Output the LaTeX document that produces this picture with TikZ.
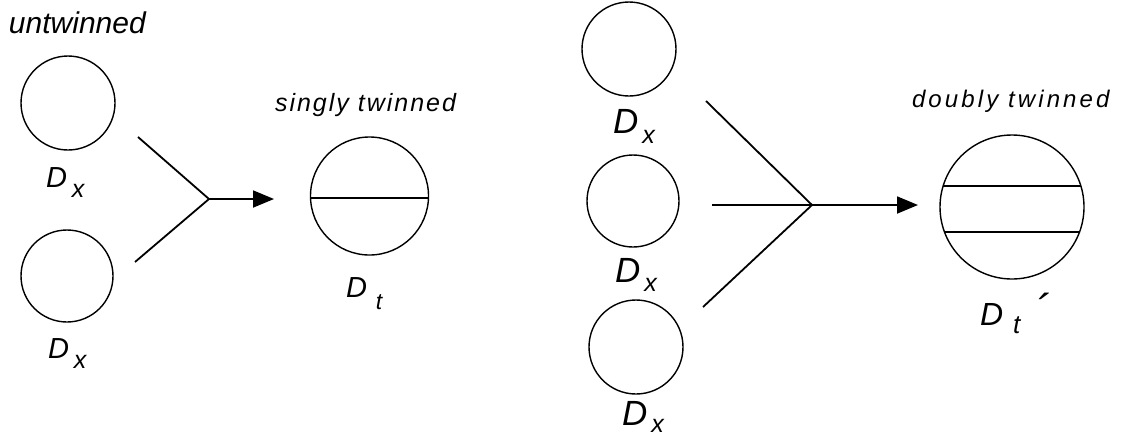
\documentclass[tikz,border=0pt]{standalone}
\usepackage{fontspec}
\setmainfont{Liberation Sans}
\usetikzlibrary{arrows.meta,calc}
\begin{document}
\begin{tikzpicture}[x=1pt,y=-1pt,
  ring/.style={draw, circle, line width=1.4pt, inner sep=0pt, outer sep=0pt},
  conn/.style={line width=1.8pt},
  arr/.style={conn, -{Triangle[length=21pt,width=17pt]}},
  chord/.style={line width=1.6pt},
  lab/.style={inner sep=0pt, outer sep=0pt, font=\itshape},
]
\useasboundingbox (0,0) rectangle (1131,437);

% ---------- left panel ----------
\node[lab, anchor=base west] (tu) at (9,33)
  {\fontsize{30}{30}\selectfont untwinned};
\node[ring, minimum size=94pt] (c1) at (68,103) {};
\node[ring, minimum size=92pt] (c2) at (67,276) {};
\node[lab, anchor=base west] (dx1) at (46,187)
  {\fontsize{29}{29}\selectfont D\kern5pt\raisebox{-10pt}{\fontsize{25}{25}\selectfont x}};
\node[lab, anchor=base west] (dx2) at (48,358)
  {\fontsize{29}{29}\selectfont D\kern5pt\raisebox{-10pt}{\fontsize{25}{25}\selectfont x}};

\coordinate (j1) at (209,199);
\coordinate (u1) at (138,137);
\coordinate (l1) at (135,262);
\coordinate (a1) at (274,199);
\draw[conn] (u1) -- (j1) -- (l1);
\draw[arr] (j1) -- (a1);

\node[lab, anchor=base west] (ts) at (275,111)
  {\fontsize{25}{25}\selectfont\addfontfeature{LetterSpace=8}singly twinned};
\node[ring, minimum size=118pt] (s) at (369.5,196) {};
\draw[chord] ($(s.center)+(-58.97,2)$) -- ($(s.center)+(58.97,2)$);
\node[lab, anchor=base west] (dt) at (346,297)
  {\fontsize{29}{29}\selectfont D\kern9pt\raisebox{-12pt}{\fontsize{23}{23}\selectfont t}};

% ---------- right panel ----------
\node[ring, minimum size=94pt] (r1) at (629,49) {};
\node[ring, minimum size=92pt] (r2) at (633,201) {};
\node[ring, minimum size=94pt] (r3) at (636,347) {};
\node[lab, anchor=base west] (dx3) at (613,133)
  {\fontsize{35}{35}\selectfont D\kern4pt\raisebox{-10pt}{\fontsize{25}{25}\selectfont x}};
\node[lab, anchor=base west] (dx4) at (615,282)
  {\fontsize{35}{35}\selectfont D\kern4pt\raisebox{-9pt}{\fontsize{25}{25}\selectfont x}};
\node[lab, anchor=base west] (dx5) at (622,425)
  {\fontsize{35}{35}\selectfont D\kern4pt\raisebox{-7pt}{\fontsize{25}{25}\selectfont x}};

\coordinate (j2) at (812,205);
\coordinate (u2) at (706,101);
\coordinate (m2) at (712,205);
\coordinate (l2) at (703,307);
\coordinate (a2) at (918,205);
\draw[conn] (u2) -- (j2) -- (l2);
\draw[conn] (m2) -- (j2);
\draw[arr] (j2) -- (a2);

\node[lab, anchor=base west] (td) at (912,107)
  {\fontsize{24}{24}\selectfont\addfontfeature{LetterSpace=13}doubly twinned};
\node[ring, minimum size=144pt] (B) at (1012,207) {};
\draw[chord] ($(B.center)+(-68.9,-21)$) -- ($(B.center)+(68.9,-21)$);
\draw[chord] ($(B.center)+(-67.5,25)$) -- ($(B.center)+(67.5,25)$);
\node[lab, anchor=base west] (dtp) at (980,325)
  {\fontsize{32}{32}\selectfont D\kern10pt\raisebox{-8pt}{\fontsize{26}{26}\selectfont t}\kern15pt{\fontsize{44}{44}\selectfont ´}};
\end{tikzpicture}
\end{document}
